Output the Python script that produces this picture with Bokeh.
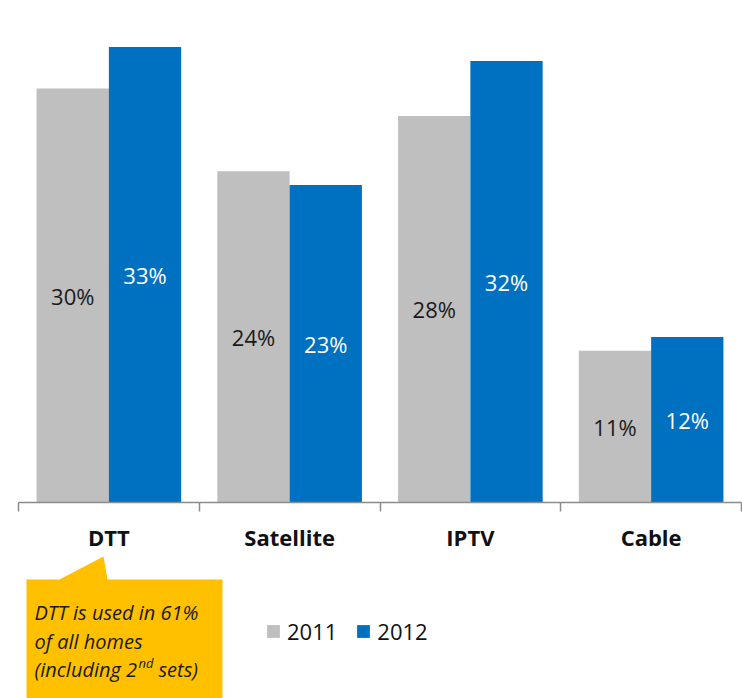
from bokeh.plotting import figure
from bokeh.models import (Range1d, FixedTicker, Legend, LegendItem, Label,
                          PolyAnnotation, ColumnDataSource)
from bokeh.embed import file_html
from bokeh.resources import INLINE
from bokeh.core.properties import value

categories = ["DTT", "Satellite", "IPTV", "Cable"]
years = ["2011", "2012"]
values_2011 = [30, 24, 28, 11]
values_2012 = [33, 23, 32, 12]
labels_2011 = ["30%", "24%", "28%", "11%"]
labels_2012 = ["33%", "23%", "32%", "12%"]
note_lines = ["DTT is used in 61%", "of all homes", "(including 2", "nd", "sets)"]

GREY = "#BFBFBF"
BLUE = "#0070C0"
FONT = "Open Sans"

W, H = 742, 698
X0, CAT_PX = 18.0, 180.75      # pixel of x=0, pixels per category
Y0, PCT_PX = 502.0, 13.8       # pixel of y=0, pixels per percent


def dx(px):
    return (px - X0) / CAT_PX


def dy(py):
    return (Y0 - py) / PCT_PX


idx = list(range(len(categories)))
src11 = ColumnDataSource(dict(x=[i + 0.3 for i in idx], top=values_2011,
                              ly=[v / 2 for v in values_2011], lab=labels_2011))
src12 = ColumnDataSource(dict(x=[i + 0.7 for i in idx], top=values_2012,
                              ly=[v / 2 for v in values_2012], lab=labels_2012))

p = figure(width=W, height=H, output_backend="svg", toolbar_location=None,
           x_range=Range1d(dx(0), dx(W)), y_range=Range1d(dy(H), dy(0)),
           min_border_left=0, min_border_right=0, min_border_top=0,
           min_border_bottom=0)
p.outline_line_color = None
p.grid.visible = False
p.yaxis.visible = False
p.background_fill_color = "white"

r11 = p.vbar(x="x", top="top", width=0.4, bottom=0, source=src11,
             fill_color=GREY, line_color=None)
r12 = p.vbar(x="x", top="top", width=0.4, bottom=0, source=src12,
             fill_color=BLUE, line_color=None)

p.text(x="x", y="ly", text="lab", source=src11, text_align="center",
       text_baseline="middle", text_font=value(FONT), text_font_size="22px",
       text_color="#1a1a1a")
p.text(x="x", y="ly", text="lab", source=src12, text_align="center",
       text_baseline="middle", text_font=value(FONT), text_font_size="22px",
       text_color="white")

ax = p.xaxis[0]
ax.fixed_location = 0
ax.bounds = (0, len(categories))
ax.ticker = FixedTicker(ticks=[i + 0.5 for i in idx],
                        minor_ticks=list(range(len(categories) + 1)))
ax.major_label_overrides = {i + 0.5: c for i, c in zip(idx, categories)}
ax.major_tick_out = 0
ax.major_tick_in = 0
ax.minor_tick_out = 9
ax.minor_tick_in = 0
ax.minor_tick_line_color = "#8C8C8C"
ax.minor_tick_line_width = 1.5
ax.axis_line_color = "#8C8C8C"
ax.axis_line_width = 1.5
ax.major_label_standoff = 10
ax.major_label_text_font = FONT
ax.major_label_text_font_style = "bold"
ax.major_label_text_font_size = "22px"
ax.major_label_text_color = "#111111"

# callout box with pointer
callout = PolyAnnotation(
    xs=[dx(26), dx(59), dx(103), dx(107), dx(222), dx(222), dx(26)],
    ys=[dy(579), dy(579), dy(556), dy(579), dy(579), dy(H + 5), dy(H + 5)],
    fill_color="#FFC000", fill_alpha=1.0, line_color=None)
p.add_layout(callout)

txt_kw = dict(text_font=FONT, text_font_style="italic", text_font_size="20px",
              text_color="#1a1a1a", text_baseline="middle", text_align="left")
p.add_layout(Label(x=dx(34), y=dy(612), text=note_lines[0], **txt_kw))
p.add_layout(Label(x=dx(34), y=dy(641), text=note_lines[1], **txt_kw))
p.add_layout(Label(x=dx(34), y=dy(669), text=note_lines[2], **txt_kw))
sup_kw = dict(txt_kw)
sup_kw["text_font_size"] = "13px"
p.add_layout(Label(x=dx(138), y=dy(662), text=note_lines[3], **sup_kw))
p.add_layout(Label(x=dx(158), y=dy(669), text=note_lines[4], **txt_kw))

legend = Legend(items=[LegendItem(label=years[0], renderers=[r11]),
                       LegendItem(label=years[1], renderers=[r12])],
                location=(265, 52), orientation="horizontal",
                glyph_width=16, glyph_height=16, label_standoff=6, spacing=18,
                padding=0, margin=0, border_line_color=None,
                background_fill_alpha=0, label_text_font=FONT,
                label_text_font_size="22px", label_text_color="#111111")
p.add_layout(legend)

open("out.html", "w").write(file_html(p, INLINE))
